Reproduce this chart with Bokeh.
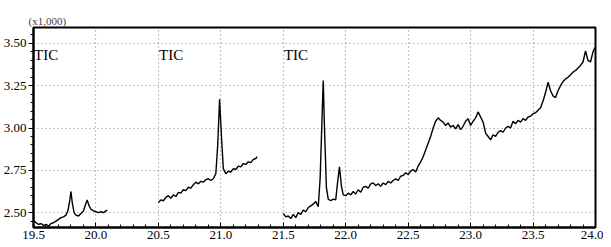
from bokeh.plotting import figure
from bokeh.models import FixedTicker, ColumnDataSource, CustomJSTickFormatter, Title
from bokeh.embed import file_html
from bokeh.resources import INLINE
from bokeh.core.properties import value

# ---- data (retention time in min, TIC intensity x1,000) ----
seg1_x = [19.50, 19.52, 19.54, 19.56, 19.58, 19.60, 19.62, 19.64, 19.66, 19.68,
          19.70, 19.72, 19.74, 19.76, 19.775, 19.79, 19.80, 19.81, 19.825, 19.84,
          19.86, 19.88, 19.90, 19.915, 19.93, 19.945, 19.96, 19.98, 20.00, 20.02,
          20.04, 20.06, 20.08, 20.09]
seg1_y = [2.455, 2.44, 2.43, 2.435, 2.425, 2.43, 2.42, 2.435, 2.44, 2.45,
          2.46, 2.47, 2.475, 2.485, 2.51, 2.57, 2.625, 2.56, 2.50, 2.485,
          2.48, 2.495, 2.51, 2.545, 2.575, 2.54, 2.52, 2.51, 2.505, 2.50,
          2.505, 2.50, 2.51, 2.515]

seg2_x = [20.50, 20.52, 20.54, 20.56, 20.58, 20.60, 20.62, 20.64, 20.66, 20.68,
          20.70, 20.72, 20.74, 20.76, 20.78, 20.80, 20.82, 20.84, 20.86, 20.88,
          20.90, 20.92, 20.94, 20.96, 20.975, 20.99, 21.005, 21.02, 21.04, 21.06,
          21.08, 21.10, 21.12, 21.14, 21.16, 21.18, 21.20, 21.22, 21.24, 21.26,
          21.28, 21.29]
seg2_y = [2.56, 2.575, 2.57, 2.59, 2.60, 2.585, 2.605, 2.595, 2.62, 2.615,
          2.635, 2.63, 2.65, 2.645, 2.665, 2.68, 2.67, 2.685, 2.68, 2.695,
          2.70, 2.69, 2.70, 2.73, 2.90, 3.17, 2.95, 2.76, 2.73, 2.745,
          2.74, 2.76, 2.755, 2.775, 2.77, 2.79, 2.785, 2.80, 2.795, 2.815,
          2.82, 2.83]

seg3_x = [21.50, 21.52, 21.54, 21.56, 21.58, 21.60, 21.62, 21.64, 21.66, 21.68,
          21.70, 21.72, 21.74, 21.76, 21.78, 21.795, 21.81, 21.82, 21.83, 21.845,
          21.86, 21.88, 21.90, 21.92, 21.935, 21.95, 21.965, 21.98, 22.00, 22.02,
          22.04, 22.06, 22.08, 22.10, 22.12, 22.14, 22.16, 22.18, 22.20, 22.22,
          22.24, 22.26, 22.28, 22.30, 22.32, 22.34, 22.36, 22.38, 22.40, 22.42,
          22.44, 22.46, 22.48, 22.50, 22.52, 22.54, 22.56, 22.58, 22.60, 22.62,
          22.64, 22.66, 22.68, 22.70, 22.72, 22.74, 22.76, 22.78, 22.80, 22.82,
          22.84, 22.86, 22.88, 22.90, 22.92, 22.94, 22.96, 22.98, 23.00, 23.02,
          23.04, 23.06, 23.08, 23.10, 23.12, 23.14, 23.16, 23.18, 23.20, 23.22,
          23.24, 23.26, 23.28, 23.30, 23.32, 23.34, 23.36, 23.38, 23.40, 23.42,
          23.44, 23.46, 23.48, 23.50, 23.52, 23.54, 23.56, 23.58, 23.60, 23.62,
          23.64, 23.66, 23.68, 23.70, 23.72, 23.74, 23.76, 23.78, 23.80, 23.82,
          23.84, 23.86, 23.88, 23.90, 23.92, 23.94, 23.96, 23.98, 23.995]
seg3_y = [2.495, 2.475, 2.48, 2.465, 2.49, 2.47, 2.50, 2.49, 2.515, 2.505,
          2.53, 2.54, 2.55, 2.565, 2.535, 2.70, 3.05, 3.28, 3.00, 2.65,
          2.58, 2.57, 2.58, 2.575, 2.68, 2.77, 2.66, 2.605, 2.60, 2.615,
          2.605, 2.625, 2.61, 2.635, 2.62, 2.65, 2.655, 2.645, 2.67, 2.675,
          2.66, 2.67, 2.655, 2.675, 2.665, 2.685, 2.675, 2.69, 2.70, 2.69,
          2.715, 2.72, 2.735, 2.725, 2.745, 2.755, 2.74, 2.775, 2.80, 2.83,
          2.87, 2.91, 2.95, 3.00, 3.04, 3.06, 3.045, 3.035, 3.015, 3.03,
          3.005, 3.015, 2.995, 3.02, 2.99, 3.01, 3.04, 3.055, 3.015, 3.04,
          3.06, 3.095, 3.065, 3.035, 2.97, 2.95, 2.93, 2.96, 2.95, 2.975,
          2.985, 2.975, 3.00, 3.01, 3.0, 3.04, 3.025, 3.045, 3.035, 3.055,
          3.045, 3.065, 3.07, 3.085, 3.09, 3.105, 3.12, 3.16, 3.21, 3.27,
          3.22, 3.19, 3.18, 3.22, 3.25, 3.275, 3.29, 3.30, 3.315, 3.33,
          3.34, 3.355, 3.37, 3.39, 3.455, 3.40, 3.39, 3.45, 3.475]

label_x = [19.505, 20.505, 21.505]
label_text = ["TIC", "TIC", "TIC"]
scale_text = "(x1,000)"

x_ticks = [19.5, 20.0, 20.5, 21.0, 21.5, 22.0, 22.5, 23.0, 23.5, 24.0]
y_ticks = [2.50, 2.75, 3.00, 3.25, 3.50]

SERIF = "Liberation Serif"

p = figure(width=603, height=241, output_backend="svg", toolbar_location=None,
           x_range=(19.5, 24.0), y_range=(2.412, 3.594),
           min_border_left=27, min_border_right=8, min_border_bottom=10,
           min_border_top=0)

# outermost: an empty spacer title; next to the frame: the scale note
p.title.text = " "
p.title.text_font_size = "9px"
p.title.standoff = 0
p.add_layout(Title(text=scale_text, text_font=SERIF, text_font_size="11px",
                   text_font_style="normal", align="left", offset=-5,
                   standoff=1), "above")

for xs, ys in [(seg1_x, seg1_y), (seg2_x, seg2_y), (seg3_x, seg3_y)]:
    p.line(xs, ys, line_color="black", line_width=1.4)

src = ColumnDataSource(dict(x=label_x, y=[3.48] * 3, t=label_text))
p.text(x="x", y="y", text="t", source=src, text_font=value(SERIF),
       text_font_size="15px", text_baseline="top", text_align="left",
       text_color="black")

p.xaxis.ticker = FixedTicker(ticks=x_ticks,
                             minor_ticks=[19.5 + 0.1 * i for i in range(46)])
p.yaxis.ticker = FixedTicker(ticks=y_ticks,
                             minor_ticks=[2.45 + 0.05 * i for i in range(23)])
p.xaxis.formatter = CustomJSTickFormatter(code="return tick.toFixed(1);")
p.yaxis.formatter = CustomJSTickFormatter(code="return tick.toFixed(2);")

for ax in (p.xaxis, p.yaxis):
    ax.axis_line_color = "black"
    ax.axis_line_width = 2
    ax.major_tick_line_color = "black"
    ax.minor_tick_line_color = "black"
    ax.major_label_text_font = SERIF
    ax.major_label_text_font_size = "13px"
    ax.major_label_text_color = "black"

p.xaxis.major_tick_in = 5
p.xaxis.major_tick_out = 0
p.xaxis.minor_tick_in = 3
p.xaxis.minor_tick_out = 0
p.xaxis.major_label_standoff = 3
p.yaxis.major_tick_in = 0
p.yaxis.major_tick_out = 5
p.yaxis.minor_tick_in = 0
p.yaxis.minor_tick_out = 3
p.yaxis.major_label_standoff = 2

p.xgrid.ticker = FixedTicker(ticks=x_ticks[1:-1])
p.ygrid.ticker = FixedTicker(ticks=y_ticks)
for g in (p.xgrid, p.ygrid):
    g.grid_line_color = "#8a8a8a"
    g.grid_line_dash = "1 3"
    g.grid_line_width = 1.2

p.outline_line_color = "black"
p.outline_line_width = 2
p.background_fill_color = "white"
p.border_fill_color = "white"

open("out.html", "w").write(file_html(p, INLINE))
